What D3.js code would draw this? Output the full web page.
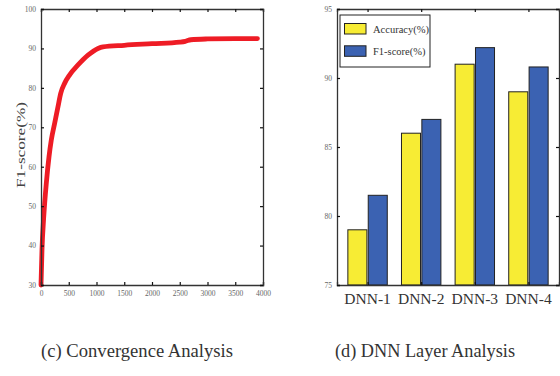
<!DOCTYPE html>
<html><head><meta charset="utf-8">
<script src="https://cdn.jsdelivr.net/npm/d3@7"></script>
<style>body{margin:0;background:#fff}svg{display:block}</style>
</head><body>
<svg id="c" width="560" height="376"></svg>
<script>
// ---- Data: (c) Convergence Analysis ----
const iterations = [0, 18, 48, 97, 144, 186, 246, 306, 355, 427, 517, 667, 847, 1027, 1117, 1500, 2000, 2500, 2600, 2700, 3000, 3500, 3900];
const f1Curve    = [30, 39, 47, 56, 62.5, 66.8, 71, 75.2, 78.6, 81.2, 83.3, 85.8, 88.3, 90, 90.4, 90.8, 91.2, 91.6, 91.8, 92.2, 92.4, 92.5, 92.5];
const convXTicks = [0, 500, 1000, 1500, 2000, 2500, 3000, 3500, 4000];
const convYTicks = [30, 40, 50, 60, 70, 80, 90, 100];

// ---- Data: (d) DNN Layer Analysis ----
const models   = ["DNN-1", "DNN-2", "DNN-3", "DNN-4"];
const accuracy = [79.0, 86.0, 91.0, 89.0];
const f1score  = [81.5, 87.0, 92.2, 90.8];
const layerYTicks = [75, 80, 85, 90, 95];
const seriesNames = ["Accuracy(%)", "F1-score(%)"];

const svg = d3.select("#c");
const axisColor = "#333";
const tickFont = "'Liberation Serif', serif";

// ===== Left chart =====
const L = {x0: 41, x1: 263, y0: 9, y1: 285};
const xs = d3.scaleLinear().domain([0, 4000]).range([L.x0, L.x1]);
const ys = d3.scaleLinear().domain([30, 100]).range([L.y1, L.y0]);
const gl = svg.append("g");

const line = d3.line().x((d, i) => xs(iterations[i])).y(d => ys(d)).curve(d3.curveMonotoneX);
gl.append("path").datum(f1Curve).attr("d", line)
  .attr("fill", "none").attr("stroke", "#ee1c25").attr("stroke-width", 4.8)
  .attr("stroke-linejoin", "round").attr("stroke-linecap", "round");

function frameAxes(g, xScale, yScale, box, xTicks, yTicks, showXLabels) {
  const bottom = g.append("g").attr("transform", `translate(0,${box.y1})`)
    .call(d3.axisBottom(xScale).tickValues(xTicks).tickSize(-3).tickPadding(6).tickFormat(showXLabels ? d3.format("d") : ""));
  const top = g.append("g").attr("transform", `translate(0,${box.y0})`)
    .call(d3.axisTop(xScale).tickValues(xTicks).tickSize(-3).tickFormat(""));
  const left = g.append("g").attr("transform", `translate(${box.x0},0)`)
    .call(d3.axisLeft(yScale).tickValues(yTicks).tickSize(-3).tickPadding(5));
  const right = g.append("g").attr("transform", `translate(${box.x1},0)`)
    .call(d3.axisRight(yScale).tickValues(yTicks).tickSize(-3).tickFormat(""));
  [bottom, top, left, right].forEach(a => {
    a.select(".domain").attr("stroke", axisColor).attr("stroke-width", 1.3);
    a.selectAll(".tick line").attr("stroke", "#111").attr("stroke-width", 1.2);
    a.selectAll("text").attr("fill", "#666").attr("font-family", tickFont).attr("font-size", 7.5);
  });
  return {bottom, left};
}
frameAxes(gl, xs, ys, L, convXTicks, convYTicks, true);

gl.append("text").attr("transform", `translate(25,145) rotate(-90)`)
  .attr("text-anchor", "middle").attr("font-family", tickFont).attr("font-size", 12.5).attr("fill", "#444")
  .attr("textLength", 86).attr("lengthAdjust", "spacingAndGlyphs")
  .text("F1-score(%)");

// ===== Right chart =====
const R = {x0: 337, x1: 559, y0: 9, y1: 285};
const xb = d3.scaleLinear().domain([0.43, 4.57]).range([R.x0, R.x1]);
const yb = d3.scaleLinear().domain([75, 95]).range([R.y1, R.y0]);
const gr = svg.append("g");
const bw = 0.355, off = 0.19;
const colors = ["#f7ec34", "#3b62b2"];
[accuracy, f1score].forEach((vals, s) => {
  gr.selectAll(null).data(vals).enter().append("rect")
    .attr("x", (d, i) => xb(i + 1 + (s === 0 ? -off : off) - bw / 2))
    .attr("width", xb(bw) - xb(0))
    .attr("y", d => yb(d)).attr("height", d => yb(75) - yb(d))
    .attr("fill", colors[s]).attr("stroke", "#222").attr("stroke-width", 1);
});
const ra = frameAxes(gr, xb, yb, R, [1, 2, 3, 4], layerYTicks, false);
ra.bottom.selectAll(".tick text").remove();
gr.selectAll(null).data(models).enter().append("text")
  .attr("x", (d, i) => xb(i + 1)).attr("y", 304)
  .attr("text-anchor", "middle").attr("font-family", tickFont).attr("font-size", 15.5).attr("fill", "#333")
  .text(d => d);

// legend
const lg = gr.append("g");
lg.append("rect").attr("x", 340).attr("y", 15).attr("width", 90).attr("height", 52)
  .attr("fill", "#fff").attr("stroke", "#222").attr("stroke-width", 1);
seriesNames.forEach((n, i) => {
  lg.append("rect").attr("x", 344.5).attr("y", 23.5 + i * 22.3).attr("width", 21.5).attr("height", 10.5)
    .attr("fill", colors[i]).attr("stroke", "#222").attr("stroke-width", 1);
  lg.append("text").attr("x", 373).attr("y", 32.5 + i * 22.3)
    .attr("font-family", tickFont).attr("font-size", 10.5).attr("fill", "#333").text(n);
});

// captions
svg.append("text").attr("x", 41).attr("y", 357).attr("font-family", tickFont).attr("font-size", 18)
  .attr("fill", "#333").attr("textLength", 192).attr("lengthAdjust", "spacingAndGlyphs").text("(c) Convergence Analysis");
svg.append("text").attr("x", 335).attr("y", 357).attr("font-family", tickFont).attr("font-size", 18)
  .attr("fill", "#333").attr("textLength", 180).attr("lengthAdjust", "spacingAndGlyphs").text("(d) DNN Layer Analysis");
</script>
</body></html>
